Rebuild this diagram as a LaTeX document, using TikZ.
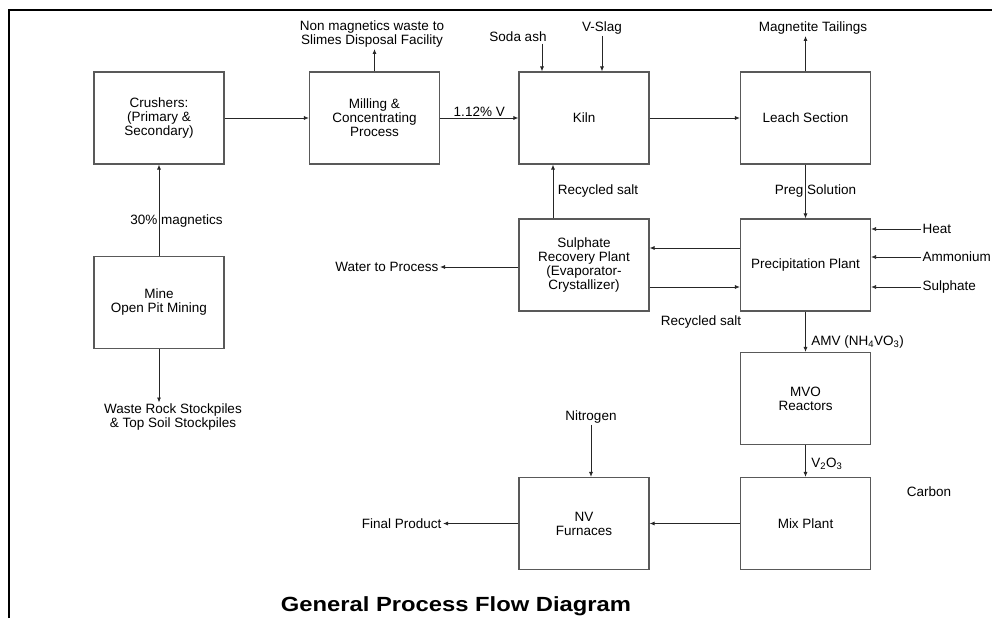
\documentclass[tikz,border=0pt]{standalone}
\usepackage{fontspec}
\usepackage{graphicx}
\setmainfont{Liberation Sans}
\usetikzlibrary{arrows.meta,positioning}

\begin{document}
\begin{tikzpicture}[
    x=1pt, y=-1pt,
    font=\fontsize{13.5}{14}\selectfont,
    box/.style={draw=black!65, line width=1.1pt, align=center, minimum width=130pt, minimum height=92pt, inner sep=2pt},
    link/.style={-{Latex[length=5pt,width=4pt]}, line width=0.8pt, draw=black!85},
    lbl/.style={align=center, inner sep=1.5pt}
]
\useasboundingbox (0,0) rectangle (992,618);
% page frame, cut at the right and at the bottom
\draw[line width=1.6pt] (9,618) -- (9,10) -- (992,10);

% top row
\node[box] (crushers) at (159,118) {Crushers:\\(Primary \&\\Secondary)};
\node[box] (milling) at (374.5,118) {Milling \&\\Concentrating\\Process};
\node[box] (kiln) at (584,118) {Kiln};
\node[box] (leach) at (805.5,118) {Leach Section};
% second row
\node[box] (mine) at (159,302.5) {Mine\\Open Pit Mining};
\node[box] (recovery) at (584,265) {Sulphate\\Recovery Plant\\(Evaporator-\\Crystallizer)};
\node[box] (precip) at (805.5,265) {Precipitation Plant};
% lower rows
\node[box] (mvo) at (805.5,398.5) {MVO\\Reactors};
\node[box] (mix) at (805.5,523.5) {Mix Plant};
\node[box] (furnace) at (584,523.5) {NV\\Furnaces};

% inputs and outputs
\node[lbl] (slimes) at (372,34) {Non magnetics waste to\\Slimes Disposal Facility};
\node[lbl] (soda) at (518,37) {Soda ash};
\node[lbl] (vslag) at (602,28) {V-Slag};
\node[lbl] (tailings) at (813,28) {Magnetite Tailings};
\node[lbl] (waste) at (173,417.5) {Waste Rock Stockpiles\\\& Top Soil Stockpiles};
\node[lbl, anchor=east] (water) at (440,267) {Water to Process};
\node[lbl] (salt) at (701,322) {Recycled salt};
\node[lbl, anchor=west] (heat) at (921,229) {Heat};
\node[lbl, anchor=west] (ammonium) at (921,257) {Ammonium};
\node[lbl, anchor=west] (sulphate) at (921,287) {Sulphate};
\node[lbl] (carbon) at (929,492) {Carbon};
\node[lbl] (nitrogen) at (591,417) {Nitrogen};
\node[lbl, anchor=east] (final) at (443,523.5) {Final Product};
\node[font=\bfseries\fontsize{20.5}{24}\selectfont] (title) at (456,606)
    {\scalebox{1.16}[1]{General Process Flow Diagram}};

% main flow
\draw[link] (mine) -- (crushers);
\node[lbl] (magnetics) at (176.5,221) {30\% magnetics};
\draw[link] (crushers) -- (milling);
\draw[link] (milling) -- node[lbl, above] {1.12\% V} (kiln);
\draw[link] (kiln) -- (leach);
\draw[link] (leach) -- node[lbl, xshift=10pt] {Preg Solution} (precip);
\draw[link] (precip) -- node[lbl, pos=0.75, right=4pt] {AMV (NH\textsubscript{4}VO\textsubscript{3})} (mvo);
\draw[link] (mvo) -- node[lbl, pos=0.6, right=4pt] {V\textsubscript{2}O\textsubscript{3}} (mix);
\draw[link] (mix) -- (furnace);
\draw[link] (furnace) -- (final);

% side streams
\draw[link] (mine) -- (mine |- waste.north);
\draw[link] (milling) -- (milling |- slimes.south);
\draw[link] ([xshift=24pt]soda.south) -- ([xshift=24pt]soda.south |- kiln.north);
\draw[link] (vslag) -- (vslag |- kiln.north);
\draw[link] (leach) -- (leach |- tailings.south);
\draw[link] ([xshift=-31pt]recovery.north) -- node[lbl, right=3pt] {Recycled salt} ([xshift=-31pt]kiln.south);
\draw[link] ([yshift=17pt]precip.west) -- ([yshift=17pt]recovery.east);
\draw[link] ([yshift=-22pt]recovery.east) -- ([yshift=-22pt]precip.west);
\draw[link] (recovery.west |- water.east) -- (water.east);
\draw[link] (heat.west) -- (heat.west -| precip.east);
\draw[link] (ammonium.west) -- (ammonium.west -| precip.east);
\draw[link] (sulphate.west) -- (sulphate.west -| precip.east);
\draw[link] (nitrogen) -- (nitrogen |- furnace.north);
\end{tikzpicture}
\end{document}
